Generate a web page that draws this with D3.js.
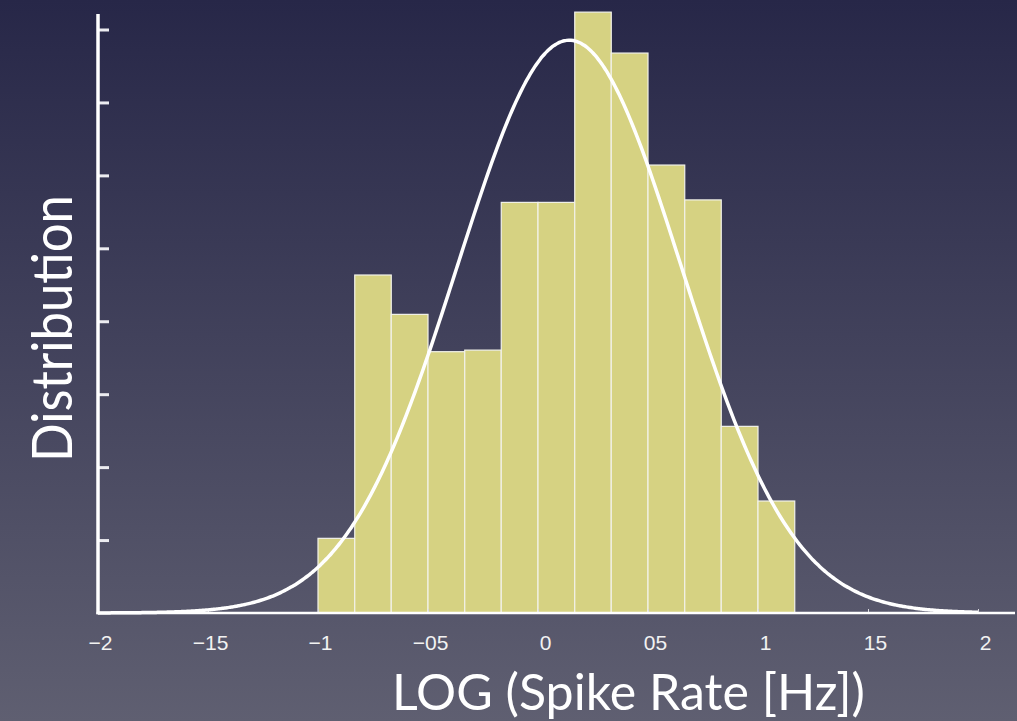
<!DOCTYPE html>
<html>
<head>
<meta charset="utf-8">
<script src="https://cdn.jsdelivr.net/npm/d3@7"></script>
<style>
  html, body { margin: 0; padding: 0; background: #2a2a48; }
  svg { display: block; }
</style>
</head>
<body>
<div id="chart"></div>
<script>
// Histogram of log spike rates (counts per bin)
const binEdges = [-1.0, -0.833, -0.667, -0.5, -0.333, -0.167, 0, 0.167, 0.333, 0.5, 0.667, 0.833, 1.0, 1.167]
const binCounts = [2, 9, 8, 7, 7, 11, 11, 16, 15, 12, 11, 5, 3]

// Normal fit drawn over the histogram
const fitMean = 0.142
const fitSigma = 0.508

// Axis ticks
const xTickValues = [-2, -1.5, -1, -0.5, 0, 0.5, 1, 1.5, 2]
const xTickLabels = ['\u22122', '\u221215', '\u22121', '\u221205', '0', '05', '1', '15', '2']
const yTickValues = [0.1, 0.2, 0.3, 0.4, 0.5, 0.6, 0.7, 0.8]

const width = 1017
const height = 721

const total = d3.sum(binCounts)
const bins = binCounts.map((c, i) => ({
  x0: binEdges[i],
  x1: binEdges[i + 1],
  density: c / (total * (binEdges[i + 1] - binEdges[i]))
}))

const svg = d3.select('#chart')
  .append('svg')
  .attr('width', width)
  .attr('height', height)

// background gradient
const grad = svg.append('defs').append('linearGradient')
  .attr('id', 'bg')
  .attr('x1', 0).attr('y1', 0)
  .attr('x2', 0).attr('y2', 1)
grad.append('stop').attr('offset', '0%').attr('stop-color', '#272748')
grad.append('stop').attr('offset', '100%').attr('stop-color', '#5f5f71')

svg.append('rect')
  .attr('width', width)
  .attr('height', height)
  .attr('fill', 'url(#bg)')

const xScale = d3.scaleLinear()
  .domain([-2, 2])
  .range([98, 978])

const yScale = d3.scaleLinear()
  .domain([0, 0.8])
  .range([613, 29.5])

// bars
svg.append('g')
  .selectAll('rect')
  .data(bins)
  .enter().append('rect')
  .attr('x', d => xScale(d.x0))
  .attr('y', d => yScale(d.density))
  .attr('width', d => xScale(d.x1) - xScale(d.x0))
  .attr('height', d => yScale(0) - yScale(d.density))
  .attr('fill', '#d6d282')
  .attr('stroke', '#f2f2ea')
  .attr('stroke-width', 1.2)

// x axis: small upward ticks, labels below
const xAxis = d3.axisBottom(xScale)
  .tickValues(xTickValues)
  .tickFormat((d, i) => xTickLabels[i])
  .tickSizeInner(-4)
  .tickSizeOuter(0)
  .tickPadding(22)

const gx = svg.append('g')
  .attr('transform', 'translate(0,' + yScale(0) + ')')
  .call(xAxis)
gx.select('.domain').remove()
gx.selectAll('line').attr('stroke', '#d8d8de').attr('stroke-width', 1)
gx.selectAll('text')
  .attr('fill', '#f2f2f2')
  .attr('dx', d => d < 0 ? 2 : 7)
  .style('font-family', '"Liberation Sans", Arial, sans-serif')
  .style('font-size', '21px')

// y axis: inward ticks, no labels
const yAxis = d3.axisLeft(yScale)
  .tickValues(yTickValues)
  .tickFormat('')
  .tickSizeInner(-11)
  .tickSizeOuter(0)

const gy = svg.append('g')
  .attr('transform', 'translate(' + xScale(-2) + ',0)')
  .call(yAxis)
gy.select('.domain').remove()
gy.selectAll('line').attr('stroke', '#ececf0').attr('stroke-width', 3)

// axis lines
svg.append('line')
  .attr('x1', xScale(-2) - 1.5).attr('x2', 1015)
  .attr('y1', yScale(0)).attr('y2', yScale(0))
  .attr('stroke', '#ffffff')
  .attr('stroke-width', 2.5)

svg.append('line')
  .attr('x1', xScale(-2)).attr('x2', xScale(-2))
  .attr('y1', yScale(0) + 1.2).attr('y2', 14)
  .attr('stroke', '#ffffff')
  .attr('stroke-width', 3.5)

// normal fit curve
const curve = d3.range(-2, 2.0001, 0.01).map(x => ({
  x: x,
  y: Math.exp(-0.5 * Math.pow((x - fitMean) / fitSigma, 2)) / (fitSigma * Math.sqrt(2 * Math.PI))
}))

const line = d3.line()
  .x(d => xScale(d.x))
  .y(d => yScale(d.y))
  .curve(d3.curveMonotoneX)

svg.append('path')
  .datum(curve)
  .attr('d', line)
  .attr('fill', 'none')
  .attr('stroke', '#ffffff')
  .attr('stroke-width', 3.5)

// axis titles
svg.append('text')
  .attr('x', 628.5)
  .attr('y', 710)
  .attr('text-anchor', 'middle')
  .attr('textLength', 473)
  .attr('lengthAdjust', 'spacingAndGlyphs')
  .attr('fill', '#ffffff')
  .style('font-family', 'Lato, "Open Sans", sans-serif')
  .style('font-size', '50px')
  .text('LOG (Spike Rate [Hz])')

svg.append('text')
  .attr('transform', 'translate(72,328.5) rotate(-90)')
  .attr('text-anchor', 'middle')
  .attr('textLength', 267)
  .attr('lengthAdjust', 'spacingAndGlyphs')
  .attr('fill', '#ffffff')
  .style('font-family', 'Lato, "Open Sans", sans-serif')
  .style('font-size', '57px')
  .text('Distribution')
</script>
</body>
</html>
